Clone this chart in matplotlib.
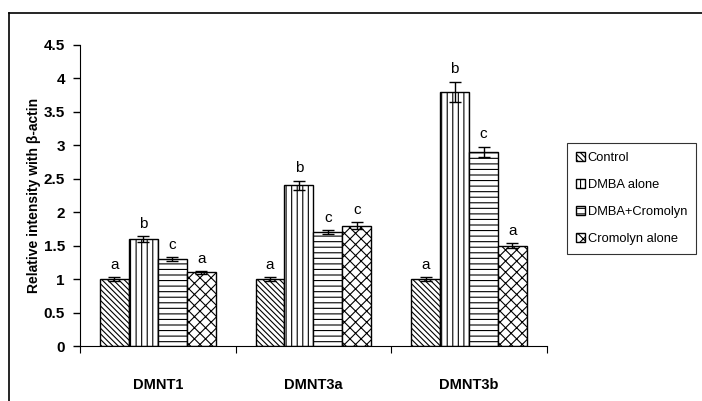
import matplotlib
matplotlib.use("Agg")
import matplotlib.pyplot as plt
from matplotlib.lines import Line2D
import numpy as np

plt.rcParams['font.family'] = ['Liberation Sans', 'DejaVu Sans']
plt.rcParams['hatch.linewidth'] = 0.8

genes = ['DMNT1', 'DMNT3a', 'DMNT3b']
groups = ['Control', 'DMBA alone', 'DMBA+Cromolyn', 'Cromolyn alone']
values = [[1.0, 1.0, 1.0],
          [1.6, 2.4, 3.8],
          [1.3, 1.7, 2.9],
          [1.1, 1.8, 1.5]]
errors = [[0.03, 0.03, 0.03],
          [0.04, 0.07, 0.15],
          [0.03, 0.03, 0.08],
          [0.02, 0.05, 0.04]]
letters = [['a', 'a', 'a'],
           ['b', 'b', 'b'],
           ['c', 'c', 'c'],
           ['a', 'c', 'a']]
hatches = ['\\\\\\\\\\\\', '|||', '---', 'xxx']

fig = plt.figure(figsize=(7.02, 4.01), dpi=100)
ax = fig.add_axes([0.114, 0.137, 0.665, 0.751])

x = np.arange(len(genes))
w = 0.186
for i in range(len(groups)):
    pos = x + (i - 1.5) * w
    ax.bar(pos, values[i], w, color='white', edgecolor='black', linewidth=1.0,
           hatch=hatches[i], label=groups[i])
    ax.errorbar(pos, values[i], yerr=errors[i], fmt='none', ecolor='black',
                elinewidth=1.0, capsize=4, capthick=1.0)
    for j in range(len(genes)):
        ax.text(pos[j], values[i][j] + errors[i][j] + 0.08, letters[i][j],
                ha='center', va='bottom', fontsize=11)

ax.set_xlim(-0.5, 2.5)
ax.set_ylim(0, 4.5)
ax.set_yticks(np.arange(0, 4.51, 0.5))
ax.set_yticklabels(['0', '0.5', '1', '1.5', '2', '2.5', '3', '3.5', '4', '4.5'],
                   fontweight='bold', fontsize=11)
ax.set_xticks([-0.5, 0.5, 1.5, 2.5])
ax.set_xticklabels([])
ax.set_xticks(x, minor=True)
ax.set_xticklabels(genes, minor=True, fontweight='bold', fontsize=10.5)
ax.tick_params(axis='x', which='minor', length=0, pad=23)
ax.tick_params(axis='x', which='major', direction='out', length=5)
ax.tick_params(axis='y', direction='out', length=5, width=1, pad=6)
ax.spines['top'].set_visible(False)
ax.spines['right'].set_visible(False)
ax.set_ylabel('Relative intensity with β-actin', fontweight='bold', fontsize=10,
              labelpad=2)

leg = ax.legend(loc='upper left', bbox_to_anchor=(1.043, 0.675), frameon=True,
                fancybox=False, edgecolor='black', fontsize=9.3,
                handlelength=0.7, handleheight=0.7, handletextpad=0.2,
                borderpad=0.7, labelspacing=1.15, borderaxespad=0)
leg.get_frame().set_linewidth(0.8)

# outer frame
fig.add_artist(Line2D([9 / 702, 9 / 702], [0, 1 - 13 / 401], color='black', lw=1.2,
                      transform=fig.transFigure))
fig.add_artist(Line2D([9 / 702, 1], [1 - 13 / 401, 1 - 13 / 401], color='black', lw=1.2,
                      transform=fig.transFigure))

fig.savefig('out.png', dpi=100)
